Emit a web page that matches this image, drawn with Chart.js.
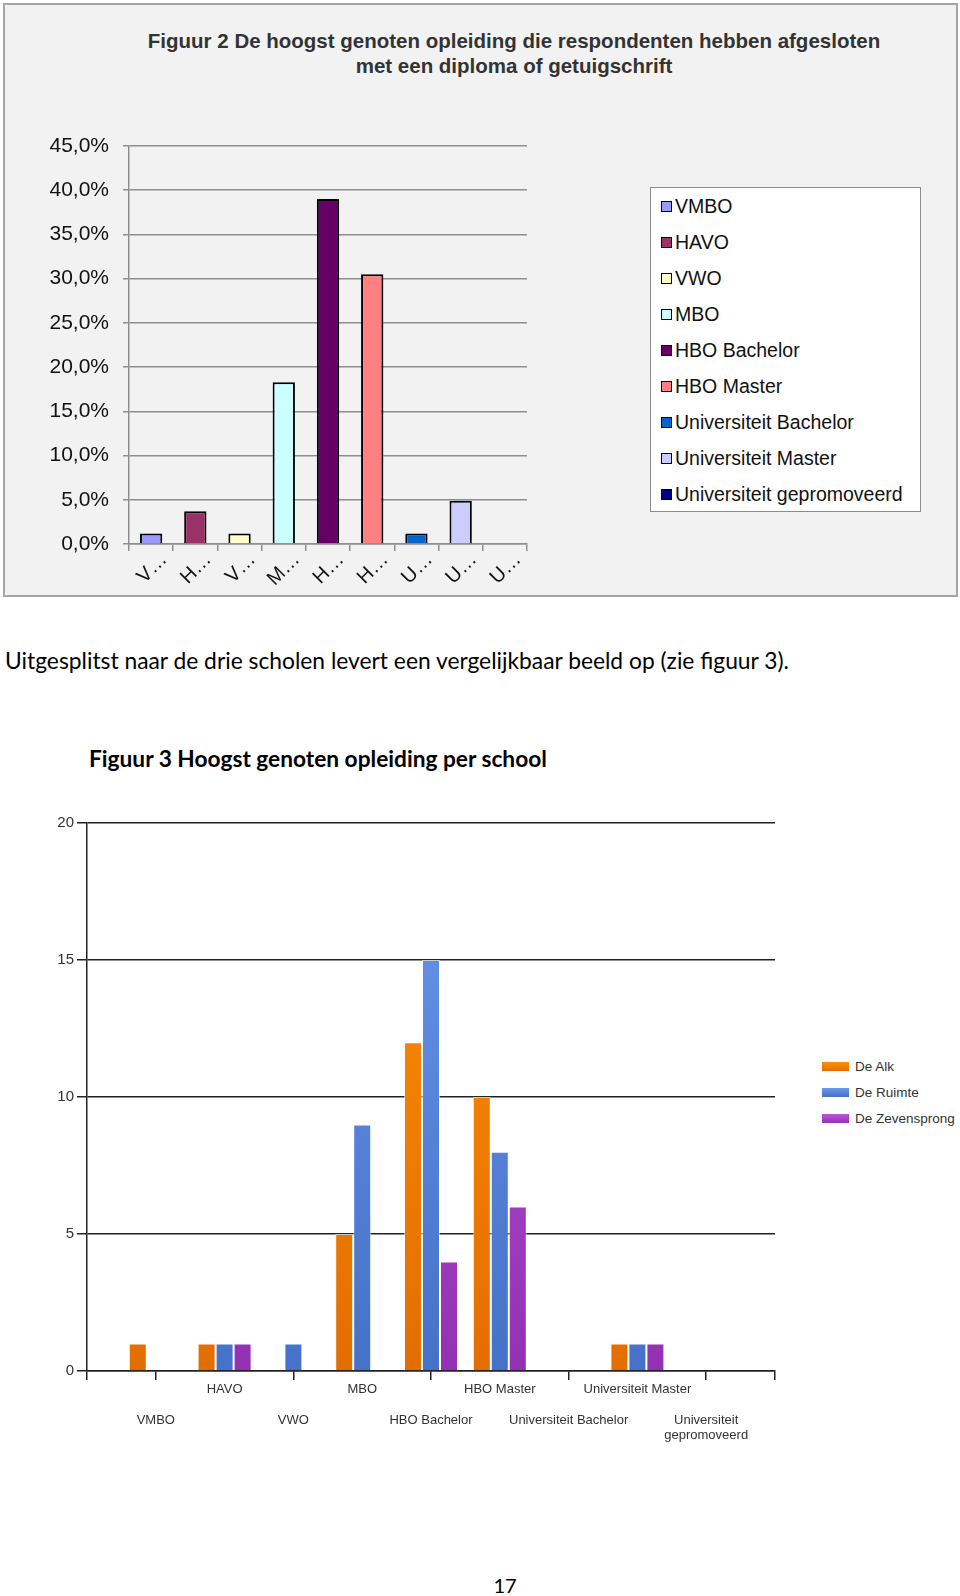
<!DOCTYPE html>
<html>
<head>
<meta charset="utf-8">
<script src="https://cdn.jsdelivr.net/npm/chart.js@4.4.1/dist/chart.umd.min.js"></script>
<style>
body{margin:0;background:#fff;}
#page{position:relative;width:960px;height:1596px;overflow:hidden;font-family:'Liberation Sans',Arial,sans-serif;}
#fig2{position:absolute;left:3px;top:3px;width:955px;height:594px;box-sizing:border-box;border:2px solid #a6a6a6;background:#f2f2f2;}
#title2{position:absolute;left:114px;width:800px;top:28px;text-align:center;font-weight:bold;font-size:20.5px;line-height:25px;color:#333;}
#wrap1{position:absolute;left:0;top:100px;width:540px;height:490px;}
#legend1{position:absolute;left:650px;top:187px;width:271px;height:325px;box-sizing:border-box;border:1px solid #8c8c8c;background:#fff;}
#legend1 .item{height:36px;display:flex;align-items:center;font-size:19.5px;color:#111;padding-left:10px;}
#legend1 .mark{width:11px;height:11px;border:1px solid #000;box-sizing:border-box;margin-right:3px;}
.doc{position:absolute;font-family:Lato,'Open Sans',sans-serif;color:#000;white-space:nowrap;}
#para{left:5px;top:646px;font-size:22.8px;line-height:28px;}
#head3{left:89px;top:745px;font-size:22.7px;line-height:28px;font-weight:bold;}
#pagenr{left:485px;width:40px;text-align:center;top:1572px;font-size:20px;line-height:26px;}
#wrap2{position:absolute;left:0;top:790px;width:800px;height:660px;}
#legend2{position:absolute;left:822px;top:1053px;}
#legend2 .item{height:26px;display:flex;align-items:center;font-size:13.5px;color:#333;}
#legend2 .swatch{width:27px;height:9px;margin-right:6px;}
</style>
</head>
<body>
<div id="page">
  <div id="fig2"></div>
  <div id="title2">Figuur 2 De hoogst genoten opleiding die respondenten hebben afgesloten<br>met een diploma of getuigschrift</div>
  <div id="wrap1"><canvas id="chart1"></canvas></div>
  <div id="legend1"></div>

  <div class="doc" id="para">Uitgesplitst naar de drie scholen levert een vergelijkbaar beeld op (zie figuur 3).</div>
  <div class="doc" id="head3">Figuur 3 Hoogst genoten opleiding per school</div>

  <div id="wrap2"><canvas id="chart2"></canvas></div>
  <div id="legend2"></div>

  <div class="doc" id="pagenr">17</div>
</div>
<script>
'use strict';

// categories (same for both figures)
let opleidingen=['VMBO','HAVO','VWO','MBO','HBO Bachelor','HBO Master','Universiteit Bachelor','Universiteit Master','Universiteit gepromoveerd'];

// figuur 2: percentage of respondents
let percentages=[1.2,3.7,1.2,18.3,39.0,30.5,1.2,4.9,0];
let kleuren=['#9999ff','#993366','#ffffcc','#ccffff','#660066','#ff8080','#0066cc','#ccccff','#000080'];

// figuur 3: counts per school
let scholen=['De Alk','De Ruimte','De Zevensprong'];
let deAlk=[1,1,0,5,12,10,0,1,0];
let deRuimte=[0,1,1,9,15,8,0,1,0];
let deZevensprong=[0,1,0,0,4,6,0,1,0];
let schoolKleuren=[['#ff8f05','#e36e00'],['#6a98ea','#4571c8'],['#bd58d8','#9331b3']];

Chart.defaults.font.family="'Liberation Sans', Arial, sans-serif";

/////////////////////////////// figuur 2 ///////////////////////////////
let grijs='#8e8e8e';
new Chart(document.getElementById('chart1'),{
    type:'bar',
    data:{
        labels:opleidingen,
        datasets:[{
            data:percentages,
            backgroundColor:kleuren,
            borderColor:'#000',
            borderWidth:2,
            barPercentage:0.505,
            categoryPercentage:1
        }]
    },
    options:{
        responsive:true,
        maintainAspectRatio:false,
        animation:false,
        layout:{padding:{top:46,right:13,bottom:0,left:0}},
        plugins:{legend:{display:false},tooltip:{enabled:false}},
        scales:{
            x:{
                afterFit:function(scale){ scale.height=46; },
                grid:{display:true,drawOnChartArea:false,tickLength:7,color:grijs,lineWidth:1.5},
                border:{color:grijs,width:1.5},
                ticks:{
                    autoSkip:false,minRotation:45,maxRotation:45,padding:-3,labelOffset:13,
                    color:'#111',font:{size:20},
                    callback:function(value){ return this.getLabelForValue(value).charAt(0)+'…'; }
                }
            },
            y:{
                min:0,max:45,
                afterFit:function(scale){ scale.width=129; },
                grid:{color:grijs,lineWidth:1.5,tickLength:6},
                border:{color:grijs,width:1.5},
                ticks:{
                    stepSize:5,padding:14,color:'#111',font:{size:21},
                    callback:function(v){ return v.toFixed(1).replace('.',',')+'%'; }
                }
            }
        }
    }
});

// legend of figuur 2 in its white box
let legend1=document.getElementById('legend1');
for(let i=0;i<opleidingen.length;i++){
    let item=document.createElement('div');
    item.className='item';
    let mark=document.createElement('span');
    mark.className='mark';
    mark.style.background=kleuren[i];
    item.appendChild(mark);
    item.appendChild(document.createTextNode(opleidingen[i]));
    legend1.appendChild(item);
}

/////////////////////////////// figuur 3 ///////////////////////////////
function verloop(i){
    return function(ctx){
        let area=ctx.chart.chartArea;
        if(!area){ return schoolKleuren[i][0]; }
        let g=ctx.chart.ctx.createLinearGradient(0,area.top,0,area.bottom);
        g.addColorStop(0,schoolKleuren[i][0]);
        g.addColorStop(1,schoolKleuren[i][1]);
        return g;
    };
}

function punten(values){
    return values.map(function(v,i){ return {x:i,y:v}; });
}

let reeksen=[deAlk,deRuimte,deZevensprong];
let datasets2=[];
for(let i=0;i<scholen.length;i++){
    datasets2.push({
        label:scholen[i],
        data:punten(reeksen[i]),
        backgroundColor:verloop(i),
        borderColor:'rgba(255,255,255,0.55)',
        borderWidth:1,
        barPercentage:1,
        categoryPercentage:0.785
    });
}

// x labels alternate between an upper and a lower row
function xLabel(value){
    if(value<0 || value>=opleidingen.length){ return ''; }
    let naam=opleidingen[value];
    if(value%2===1){ return naam; }
    if(naam==='Universiteit gepromoveerd'){ return ['','','Universiteit','gepromoveerd']; }
    return ['','',naam];
}

let zwart='#222';
new Chart(document.getElementById('chart2'),{
    type:'bar',
    data:{datasets:datasets2},
    options:{
        responsive:true,
        maintainAspectRatio:false,
        animation:false,
        layout:{padding:{top:33,right:25,bottom:0,left:0}},
        plugins:{legend:{display:false},tooltip:{enabled:false}},
        scales:{
            x:{
                type:'linear',
                min:-1,max:9,
                offset:false,
                afterFit:function(scale){ scale.height=79; },
                grid:{
                    offset:false,drawOnChartArea:false,tickLength:9,lineWidth:1.5,
                    color:function(ctx){
                        let v=ctx.tick ? ctx.tick.value : 0;
                        return (v===-1 || v===9 || v%2===0) ? zwart : 'rgba(0,0,0,0)';
                    }
                },
                border:{color:zwart,width:1.5},
                ticks:{
                    stepSize:1,autoSkip:false,maxRotation:0,padding:1.5,
                    color:'#333',font:{size:13,lineHeight:'15.5px'},
                    callback:xLabel
                }
            },
            y:{
                min:0,max:20,
                afterFit:function(scale){ scale.width=87; },
                grid:{color:zwart,lineWidth:1.5,tickLength:10},
                border:{color:zwart,width:1.5},
                ticks:{stepSize:5,padding:3,color:'#333',font:{size:15}}
            }
        }
    }
});

let legend2=document.getElementById('legend2');
for(let i=0;i<scholen.length;i++){
    let item=document.createElement('div');
    item.className='item';
    let sw=document.createElement('span');
    sw.className='swatch';
    sw.style.background='linear-gradient('+schoolKleuren[i][0]+','+schoolKleuren[i][1]+')';
    item.appendChild(sw);
    item.appendChild(document.createTextNode(scholen[i]));
    legend2.appendChild(item);
}
</script>
</body>
</html>
